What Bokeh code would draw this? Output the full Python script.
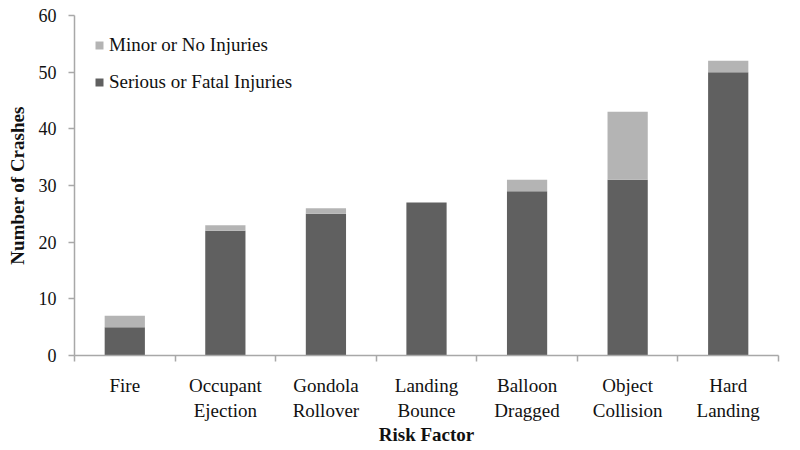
from bokeh.plotting import figure
from bokeh.models import (ColumnDataSource, Range1d, FixedTicker, LinearAxis,
                          Legend, LegendItem)
from bokeh.embed import file_html
from bokeh.resources import INLINE

categories = ["Fire", "Occupant\nEjection", "Gondola\nRollover", "Landing\nBounce",
              "Balloon\nDragged", "Object\nCollision", "Hard\nLanding"]
serious = [5, 22, 25, 27, 29, 31, 50]
minor = [2, 1, 1, 0, 2, 12, 2]
y_ticks = [0, 10, 20, 30, 40, 50, 60]

FONT = "Liberation Serif"
AXIS_COLOR = "#a8a8a8"
DARK = "#606060"
LIGHT = "#b4b4b4"

n = len(categories)
centers = [i + 0.5 for i in range(n)]
source = ColumnDataSource(dict(x=centers, serious=serious, minor=minor))

p = figure(width=800, height=450, output_backend="svg", toolbar_location=None,
           x_range=Range1d(0, n), y_range=Range1d(0, 60),
           x_axis_type=None, y_axis_type=None,
           min_border_left=74, min_border_right=22, min_border_top=15, min_border_bottom=95)
p.outline_line_color = None
p.xgrid.visible = False
p.ygrid.visible = False

renderers = p.vbar_stack(["serious", "minor"], x="x", width=0.4, source=source,
                         color=[DARK, LIGHT], line_color=None)

xaxis = LinearAxis(
    ticker=FixedTicker(ticks=centers, minor_ticks=list(range(n + 1))),
    major_label_overrides={c: lab for c, lab in zip(centers, categories)},
    axis_label="Risk Factor",
)
xaxis.major_tick_out = 0
xaxis.major_tick_in = 0
xaxis.minor_tick_out = 6
xaxis.minor_tick_in = 0
xaxis.minor_tick_line_color = AXIS_COLOR
xaxis.minor_tick_line_width = 1.5
xaxis.axis_line_color = AXIS_COLOR
xaxis.axis_line_width = 1.5
xaxis.major_label_standoff = 13
xaxis.major_label_text_font = FONT
xaxis.major_label_text_font_size = "19px"
xaxis.major_label_text_color = "#111111"
xaxis.axis_label_text_font = FONT
xaxis.axis_label_text_font_size = "19px"
xaxis.axis_label_text_font_style = "bold"
xaxis.axis_label_text_color = "#111111"
xaxis.axis_label_standoff = 0
p.add_layout(xaxis, "below")

yaxis = LinearAxis(ticker=FixedTicker(ticks=y_ticks, minor_ticks=[]),
                   axis_label="Number of Crashes")
yaxis.major_tick_out = 6
yaxis.major_tick_in = 0
yaxis.major_tick_line_color = AXIS_COLOR
yaxis.major_tick_line_width = 1.5
yaxis.axis_line_color = AXIS_COLOR
yaxis.axis_line_width = 1.5
yaxis.major_label_standoff = 12
yaxis.major_label_text_font = FONT
yaxis.major_label_text_font_size = "18px"
yaxis.major_label_text_color = "#111111"
yaxis.axis_label_text_font = FONT
yaxis.axis_label_text_font_size = "19px"
yaxis.axis_label_text_font_style = "bold"
yaxis.axis_label_text_color = "#111111"
yaxis.axis_label_standoff = 8
p.add_layout(yaxis, "left")

legend = Legend(items=[
    LegendItem(label="Minor or No Injuries", renderers=[renderers[1]]),
    LegendItem(label="Serious or Fatal Injuries", renderers=[renderers[0]]),
], location=(20, 262))
legend.margin = 0
legend.padding = 10
legend.spacing = 15
legend.glyph_width = 10
legend.glyph_height = 10
legend.label_standoff = 5
legend.label_text_font = FONT
legend.label_text_font_size = "19px"
legend.label_text_color = "#111111"
legend.background_fill_alpha = 0
legend.border_line_color = None
p.add_layout(legend)

open("out.html", "w").write(file_html(p, INLINE))
